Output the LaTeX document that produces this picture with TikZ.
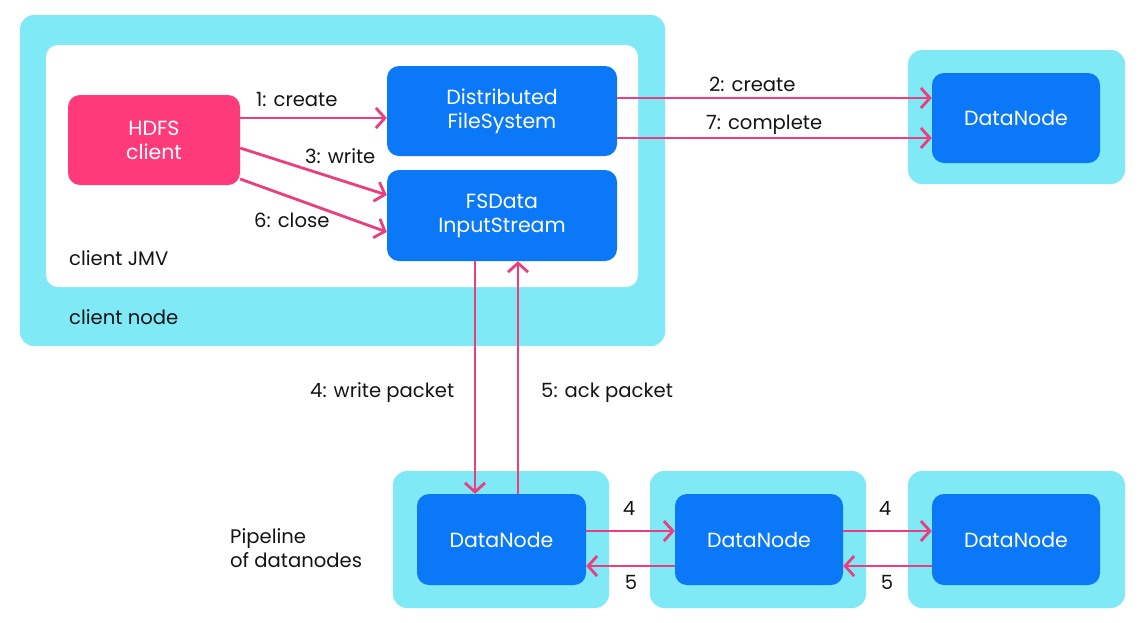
\documentclass[tikz,border=0pt]{standalone}
\usepackage{fontspec}
\setmainfont{Poppins}
\usetikzlibrary{arrows.meta}
\definecolor{cyanbg}{HTML}{7FE9F5}
\definecolor{bluebox}{HTML}{0A78F7}
\definecolor{pinkbox}{HTML}{FF3A7A}
\definecolor{arrowc}{HTML}{EC3D7E}
\definecolor{txt}{HTML}{141414}
\tikzset{
  outerbox/.style={fill=cyanbg, rounded corners=14pt},
  innerbox/.style={fill=white, rounded corners=12pt},
  bluenode/.style={fill=bluebox, rounded corners=12pt, text=white, align=center,
    font=\fontsize{20.5}{24}\selectfont, inner sep=0pt},
  pinknode/.style={fill=pinkbox, rounded corners=12pt, text=white, align=center,
    font=\fontsize{20.5}{24}\selectfont, inner sep=0pt, minimum width=172pt, minimum height=90pt},
  lbl/.style={text=txt, font=\fontsize{19.6}{24}\selectfont, inner sep=0pt, anchor=west, align=left},
  conn/.style={draw=arrowc, line width=2.8pt, -{Straight Barb[length=9pt,width=20pt,line width=2.8pt]}},
}
\begin{document}
\begin{tikzpicture}[x=1pt,y=-1pt]
\useasboundingbox (0,0) rectangle (1139,622);
% client node
\fill[outerbox] (20,15) rectangle (665,346);
\fill[innerbox] (46,45) rectangle (638,287);
% outer datanode boxes
\fill[outerbox] (908,50) rectangle (1125,184);
\fill[outerbox] (393,471) rectangle (609,608);
\fill[outerbox] (650,471) rectangle (866,608);
\fill[outerbox] (908,471) rectangle (1125,608);
% nodes
\node[pinknode] (hdfs) at (154,140) {HDFS\\client};
\node[bluenode, minimum width=230pt, minimum height=90pt] (dfs) at (502,111) {Distributed\\FileSystem};
\node[bluenode, minimum width=230pt, minimum height=91pt] (fsd) at (502,215.5) {FSData\\InputStream};
\node[bluenode, minimum width=168pt, minimum height=90pt] (dn0) at (1016,118) {DataNode};
\node[bluenode, minimum width=169pt, minimum height=91pt] (dn1) at (501.5,539.5) {DataNode};
\node[bluenode, minimum width=168pt, minimum height=91pt] (dn2) at (759,539.5) {DataNode};
\node[bluenode, minimum width=168pt, minimum height=91pt] (dn3) at (1016,539.5) {DataNode};
% connectors
\draw[conn] ([yshift=22pt]hdfs.east) -- ([yshift=-7pt]dfs.west);
\draw[conn] ([yshift=-8pt]hdfs.east) -- ([yshift=20.5pt]fsd.west);
\draw[conn] ([yshift=-39pt]hdfs.east) -- ([yshift=-16.5pt]fsd.west);
\draw[conn] ([yshift=13pt]dfs.east) -- ([yshift=20pt]dn0.west);
\draw[conn] ([yshift=-27pt]dfs.east) -- ([yshift=-20pt]dn0.west);
\draw[conn] ([xshift=-27pt]fsd.south) -- ([xshift=-26.5pt]dn1.north);
\draw[conn] ([xshift=16.5pt]dn1.north) -- ([xshift=16pt]fsd.south);
\draw[conn] ([yshift=8.5pt]dn1.east) -- ([yshift=8.5pt]dn2.west);
\draw[conn] ([yshift=-26.5pt]dn2.west) -- ([yshift=-26.5pt]dn1.east);
\draw[conn] ([yshift=8.5pt]dn2.east) -- ([yshift=8.5pt]dn3.west);
\draw[conn] ([yshift=-26.5pt]dn3.west) -- ([yshift=-26.5pt]dn2.east);
% labels
\node[lbl] (l1) at (256,99) {1: create};
\node[lbl] (l3) at (305,156) {3: write};
\node[lbl] (l6) at (254,220) {6: close};
\node[lbl] (l2) at (709,84) {2: create};
\node[lbl] (l7) at (706,125) {7: complete};
\node[lbl] (l4) at (310,393) {4: write packet};
\node[lbl] (l5) at (541,393) {5: ack packet};
\node[lbl, anchor=center] (p4a) at (629,508) {4};
\node[lbl, anchor=center] (p5a) at (631,582) {5};
\node[lbl, anchor=center] (p4b) at (885,508) {4};
\node[lbl, anchor=center] (p5b) at (887,582) {5};
\node[lbl] (pipe) at (230,548) {Pipeline\\of datanodes};
\node[lbl] (jmv) at (69,258) {client JMV};
\node[lbl] (cn) at (69,317) {client node};
\end{tikzpicture}
\end{document}
